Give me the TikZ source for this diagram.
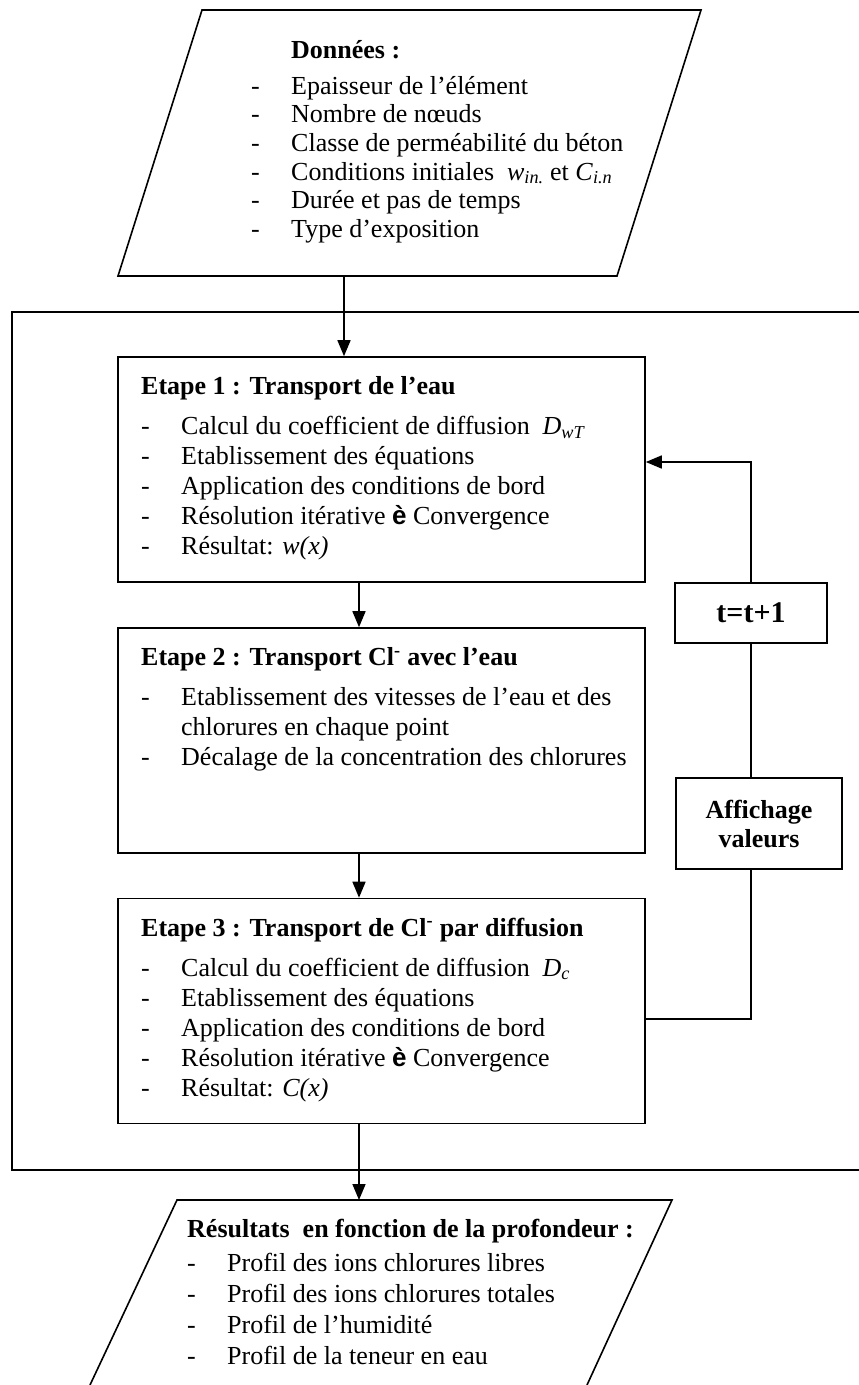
\documentclass[tikz,border=0pt]{standalone}
\usepackage{fontspec}
\setmainfont{Liberation Serif}
\newfontfamily\flechefont{Liberation Sans}
\usetikzlibrary{arrows.meta}

% one item of a list, and the follow-on line of an item
\newcommand{\puce}[1]{\makebox[40pt][l]{-}#1}
\newcommand{\suite}[1]{\hspace*{40pt}#1}
\newcommand{\versfleche}{{\flechefont\bfseries è}}

\begin{document}
\begin{tikzpicture}[x=1pt,y=-1pt,
  trait/.style={line width=1.6pt},
  boite/.style={draw, trait, rectangle, minimum width=527pt, minimum height=225pt, inner sep=0pt},
  petite/.style={draw, trait, rectangle, inner sep=0pt, align=center, font=\bfseries\fontsize{26}{29}\selectfont},
  fleche/.style={trait, -{Triangle[length=16pt,width=13pt]}},
  texte/.style={anchor=north west, inner sep=0pt, align=left, font=\fontsize{26}{30}\selectfont}]
  \useasboundingbox (0,0) rectangle (859,1385);

  % input data
  \draw[trait] (118,276) -- (202,10) -- (701,10) -- (617,276) -- cycle;
  \coordinate (donneesS) at (344,276);
  \node[texte, font=\fontsize{26}{28.6}\selectfont] (donneesT) at (251,40.5) {%
    \suite{\textbf{Données :}}\\[7pt]
    \puce{Epaisseur de l’élément}\\
    \puce{Nombre de nœuds}\\
    \puce{Classe de perméabilité du béton}\\
    \puce{Conditions initiales\ \ \textit{w}\textsubscript{\textit{in.}} et \textit{C}\textsubscript{\textit{i.n}}}\\
    \puce{Durée et pas de temps}\\
    \puce{Type d’exposition}};

  % time loop frame
  \draw[trait] (859,312) -- (12,312) -- (12,1170) -- (859,1170);

  % the three steps
  \node[boite] (etape1) at (381.5,469.5) {};
  \node[boite] (etape2) at (381.5,740.5) {};
  \node[boite] (etape3) at (381.5,1011) {};
  \coordinate (axe) at (359,0);

  \node[texte] (etape1T) at (141,376.5) {%
    \textbf{Etape 1 : Transport de l’eau}\\[10pt]
    \puce{Calcul du coefficient de diffusion\ \ \textit{D}\textsubscript{\textit{wT}}}\\
    \puce{Etablissement des équations}\\
    \puce{Application des conditions de bord}\\
    \puce{Résolution itérative \versfleche\ Convergence}\\
    \puce{Résultat: \textit{w(x)}}};
  \node[texte] (etape2T) at (141,647.5) {%
    \textbf{Etape 2 : Transport Cl\textsuperscript{-} avec l’eau}\\[10pt]
    \puce{Etablissement des vitesses de l’eau et des}\\
    \suite{chlorures en chaque point}\\
    \puce{Décalage de la concentration des chlorures}};
  \node[texte] (etape3T) at (141,917.5) {%
    \textbf{Etape 3 : Transport de Cl\textsuperscript{-} par diffusion}\\[10pt]
    \puce{Calcul du coefficient de diffusion\ \ \textit{D}\textsubscript{\textit{c}}}\\
    \puce{Etablissement des équations}\\
    \puce{Application des conditions de bord}\\
    \puce{Résolution itérative \versfleche\ Convergence}\\
    \puce{Résultat: \textit{C(x)}}};

  % time step and display
  \node[petite, minimum width=152pt, minimum height=60pt, font=\bfseries\fontsize{30}{32}\selectfont] (tplus) at (751,613) {t=t+1};
  \node[petite, minimum width=166pt, minimum height=91pt] (affich) at (759,823.5) {Affichage\\valeurs};

  % results
  \draw[trait] (90,1385) -- (177,1200) -- (672,1200) -- (587,1385);
  \coordinate (resultatsN) at (359,1200);
  \node[texte, font=\fontsize{26}{31}\selectfont] (resultatsT) at (187,1218.5) {%
    \textbf{Résultats\ \ en fonction de la profondeur :}\\[3pt]
    \puce{Profil des ions chlorures libres}\\
    \puce{Profil des ions chlorures totales}\\
    \puce{Profil de l’humidité}\\
    \puce{Profil de la teneur en eau}};

  % arrows
  \draw[fleche] (donneesS) -- (donneesS |- etape1.north);
  \draw[fleche] (axe |- etape1.south) -- (axe |- etape2.north);
  \draw[fleche] (axe |- etape2.south) -- (axe |- etape3.north);
  \draw[fleche] (axe |- etape3.south) -- (resultatsN);

  % loop back
  \draw[trait] (etape3.east |- 0,1019) -| (tplus.south |- affich.south);
  \draw[trait] (affich.north -| tplus) -- (tplus.south);
  \draw[fleche] (tplus.north) |- (etape1.east |- 0,462);
\end{tikzpicture}
\end{document}
